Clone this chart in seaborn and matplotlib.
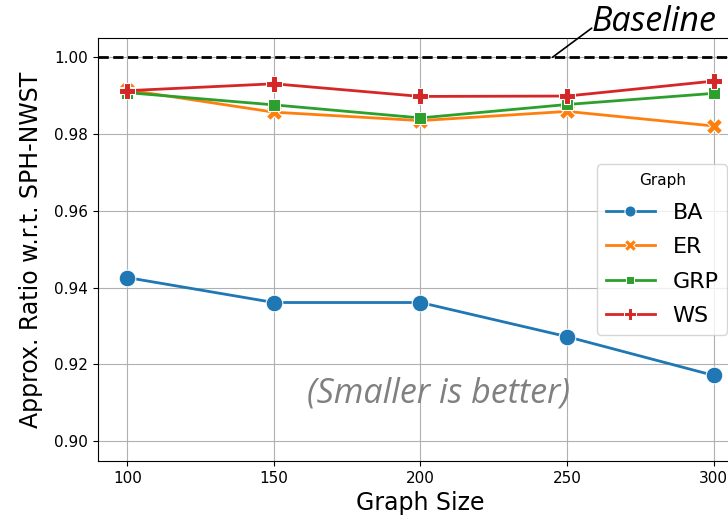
import numpy as np
import pandas as pd
import seaborn as sns
import matplotlib.pyplot as plt

sizes = [100, 150, 200, 250, 300]
graphs = ["BA", "ER", "GRP", "WS"]
ba = [0.9426, 0.9361, 0.9361, 0.9272, 0.9171]
er = [0.9915, 0.9857, 0.9835, 0.9859, 0.9821]
grp = [0.9908, 0.9876, 0.9842, 0.9877, 0.9906]
ws = [0.9913, 0.9931, 0.9898, 0.9899, 0.9938]

rows = []
for g, vals in zip(graphs, [ba, er, grp, ws]):
    for s, v in zip(sizes, vals):
        rows.append({"Graph Size": s, "Ratio": v, "Graph": g})
df = pd.DataFrame(rows)

fig = plt.figure(figsize=(7.28, 5.17), dpi=100)
ax = fig.add_axes([0.1346, 0.1083, 0.886, 0.818])

sns.lineplot(data=df, x="Graph Size", y="Ratio", hue="Graph", style="Graph",
             markers=True, dashes=False, markersize=12, linewidth=2, ax=ax)

# baseline + labels
ax.axhline(1.0, color="black", linestyle="--", linewidth=2)
ax.annotate("", xy=(245, 1.0), xytext=(258.4, 1.0076),
            arrowprops=dict(arrowstyle="-", color="black", lw=1.2,
                            shrinkA=0, shrinkB=0),
            annotation_clip=False)
ax.text(258.2, 1.0091, "Baseline", fontsize=24.5, fontstyle="italic",
        family="Open Sans", va="center", ha="left", clip_on=False)
ax.text(206, 0.9125, "(Smaller is better)", fontsize=24.5, fontstyle="italic",
        family="Open Sans", color="gray", ha="center", va="center")

ax.set_xlim(90, 310)
ax.set_ylim(0.8948, 1.005)
ax.set_xticks(sizes)
ax.set_yticks([0.90, 0.92, 0.94, 0.96, 0.98, 1.00])
ax.set_yticklabels(["0.90", "0.92", "0.94", "0.96", "0.98", "1.00"])
ax.grid(True)
ax.set_xlabel("Graph Size", fontsize=17)
ax.set_ylabel("Approx. Ratio w.r.t. SPH-NWST", fontsize=17, labelpad=8)
ax.tick_params(labelsize=11)

leg = ax.legend(title="Graph", loc="center right", fontsize=16, title_fontsize=11,
                labelspacing=0.65, handlelength=2.2, borderaxespad=0.7)
for h in leg.legend_handles:
    h.set_markersize(8)

plt.savefig("out.png", dpi=100)
